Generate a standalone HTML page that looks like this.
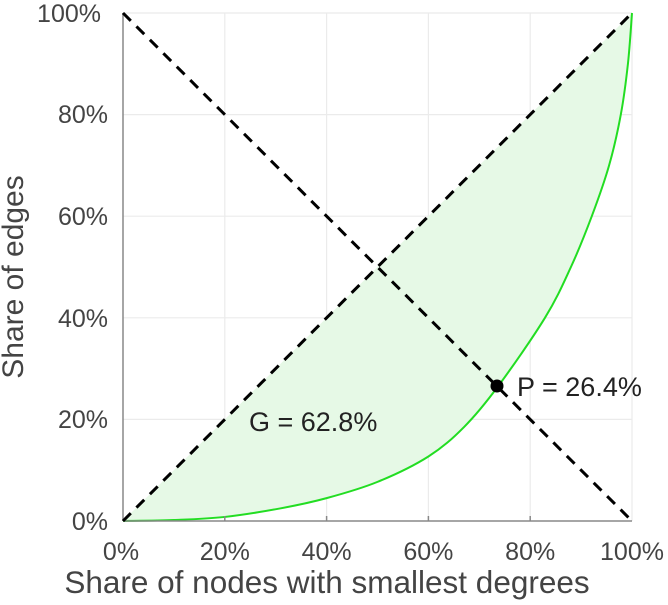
<!DOCTYPE html>
<html><head><style>body{margin:0;background:#fff}</style></head><body>
<svg width="668" height="600" xmlns="http://www.w3.org/2000/svg" font-family="Liberation Sans, sans-serif">
<g stroke="#ebebeb" stroke-width="1.2">
<line x1="224.8" y1="13" x2="224.8" y2="521"/><line x1="326.6" y1="13" x2="326.6" y2="521"/>
<line x1="428.4" y1="13" x2="428.4" y2="521"/><line x1="530.2" y1="13" x2="530.2" y2="521"/>
<line x1="632" y1="13" x2="632" y2="521"/>
<line x1="123" y1="13" x2="632" y2="13"/><line x1="123" y1="114.6" x2="632" y2="114.6"/>
<line x1="123" y1="216.2" x2="632" y2="216.2"/><line x1="123" y1="317.8" x2="632" y2="317.8"/>
<line x1="123" y1="419.4" x2="632" y2="419.4"/>
</g>
<path id="fill" fill="#e6f9e6" d=""/>
<path id="curve" fill="none" stroke="#22dd22" stroke-width="2" d=""/>
<g stroke="#888" stroke-width="1.5">
<line x1="123" y1="13" x2="123" y2="521"/><line x1="123" y1="521" x2="632" y2="521"/>
<line x1="224.8" y1="521" x2="224.8" y2="516"/><line x1="326.6" y1="521" x2="326.6" y2="516"/>
<line x1="428.4" y1="521" x2="428.4" y2="516"/><line x1="530.2" y1="521" x2="530.2" y2="516"/>
</g>
<g stroke="#000" stroke-width="3" stroke-dasharray="11,8">
<line x1="123" y1="521" x2="632" y2="13"/><line x1="123" y1="13" x2="632" y2="521"/>
</g>
<circle cx="497" cy="386" r="6.5" fill="#000"/>
<g font-size="27" fill="#222">
<text x="517" y="396">P = 26.4%</text>
<text x="249" y="431">G = 62.8%</text>
</g>
<g font-size="25" fill="#444" text-anchor="end">
<text x="101" y="22">100%</text><text x="108" y="123">80%</text><text x="108" y="225">60%</text>
<text x="108" y="327">40%</text><text x="108" y="428">20%</text><text x="108" y="530">0%</text>
</g>
<g font-size="25" fill="#444" text-anchor="middle">
<text x="121" y="560">0%</text><text x="224.8" y="560">20%</text><text x="326.6" y="560">40%</text>
<text x="428.4" y="560">60%</text><text x="530.2" y="560">80%</text><text x="632" y="560">100%</text>
<text x="327" y="593" font-size="31.5">Share of nodes with smallest degrees</text>
<text transform="translate(23,277) rotate(-90)" font-size="30">Share of edges</text>
</g>
</svg>
<script>
var p=[[0,0],[0.1,0.002],[0.2,0.008],[0.31,0.025],[0.4,0.045],[0.5,0.077],[0.6,0.127],[0.67,0.185],[0.736,0.264],[0.829,0.4],[0.88,0.5],[0.921,0.6],[0.955,0.7],[0.978,0.8],[0.992,0.9],[1,1]];
var q=p.map(function(a){return [123+509*a[0],521-508*a[1]];});
var d="M"+q[0][0]+","+q[0][1];
for(var i=0;i<q.length-1;i++){var a=q[i-1]||q[i],b=q[i],c=q[i+1],e=q[i+2]||c;
d+=" C"+(b[0]+(c[0]-a[0])/6)+","+(b[1]+(c[1]-a[1])/6)+" "+(c[0]-(e[0]-b[0])/6)+","+(c[1]-(e[1]-b[1])/6)+" "+c[0]+","+c[1];}
document.getElementById("curve").setAttribute("d",d);
document.getElementById("fill").setAttribute("d",d+" Z");
</script>
</body></html>
